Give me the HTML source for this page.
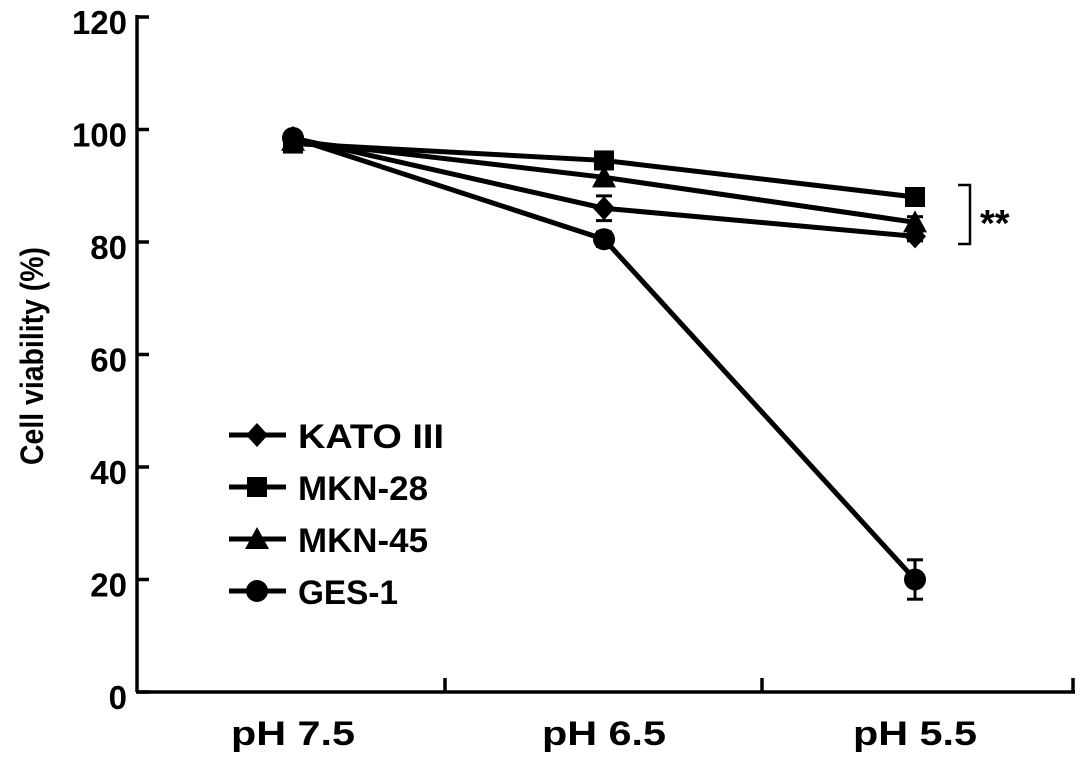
<!DOCTYPE html>
<html><head><style>
body{margin:0;background:#fff;}
text{font-family:"Liberation Sans",Arial,sans-serif;font-weight:bold;fill:#000;}
</style></head><body>
<svg id="chart" width="1087" height="765" viewBox="0 0 1087 765" xmlns="http://www.w3.org/2000/svg"></svg>
<script>
const categories=["pH 7.5","pH 6.5","pH 5.5"];
const yTicks=[0,20,40,60,80,100,120];
const seriesNames=["KATO III","MKN-28","MKN-45","GES-1"];
const kato=[98.5,86,81];
const mkn28=[97.5,94.5,88];
const mkn45=[98,91.5,83.5];
const ges1=[98.5,80.5,20];
const katoErr=[0.5,2.2,0.8];
const mkn28Err=[0.5,1,0.8];
const mkn45Err=[0.5,1.5,1];
const ges1Err=[0.5,1.3,3.5];
const svg=document.getElementById('chart');
const NS='http://www.w3.org/2000/svg';
const X0=137,Y0=692,YT=17;
const y=v=>Y0-(v/120)*(Y0-YT);
const xc=i=>293+i*311;
function mk(tag,attrs,parent){const e=document.createElementNS(NS,tag);for(const k in attrs)e.setAttribute(k,attrs[k]);(parent||svg).appendChild(e);return e;}
const axes=mk('g',{});


mk('line',{x1:X0,y1:YT-2,x2:X0,y2:Y0,stroke:'#000','stroke-width':3.5},axes);
mk('line',{x1:X0-1,y1:Y0,x2:1075,y2:Y0,stroke:'#000','stroke-width':3.5},axes);
[445,762,1073].forEach(tx=>mk('line',{x1:tx,y1:Y0,x2:tx,y2:Y0-14,stroke:'#000','stroke-width':3.5},axes));
yTicks.forEach(t=>{
 mk('line',{x1:X0,y1:y(t),x2:X0+12,y2:y(t),stroke:'#000','stroke-width':3.5},axes);
 const tl=mk('text',{x:X0-10,y:y(t)+17,'text-anchor':'end','font-size':33});
 tl.textContent=t;
 
 
});
categories.forEach((c,i)=>{
 const tl=mk('text',{x:xc(i)-62,y:745,'font-size':34,textLength:124,lengthAdjust:'spacingAndGlyphs'});
 tl.textContent=c;
 
 
});
const yt=mk('text',{x:-109,y:0,'font-size':32,textLength:218,lengthAdjust:'spacingAndGlyphs',transform:'translate(43,356) rotate(-90)'});
yt.textContent='Cell viability (%)';


function marker(type,cx,cy,g){
 const s=10;
 if(type==='diamond')return mk('polygon',{points:`${cx},${cy-12} ${cx+11},${cy} ${cx},${cy+12} ${cx-11},${cy}`},g);
 if(type==='square')return mk('rect',{x:cx-s,y:cy-s,width:2*s,height:2*s},g);
 if(type==='triangle')return mk('polygon',{points:`${cx},${cy-12} ${cx+12},${cy+10} ${cx-12},${cy+10}`},g);
 return mk('circle',{cx:cx,cy:cy,r:11},g);
}
const all=[[kato,katoErr,'diamond'],[mkn28,mkn28Err,'square'],[mkn45,mkn45Err,'triangle'],[ges1,ges1Err,'circle']];
all.forEach(([vals,errs,type],si)=>{
 const g=mk('g',{});
 
 
 mk('polyline',{points:vals.map((v,i)=>xc(i)+','+y(v)).join(' '),fill:'none',stroke:'#000','stroke-width':5},g);
 vals.forEach((v,i)=>{
  const e=errs[i];
  mk('line',{x1:xc(i),y1:y(v+e),x2:xc(i),y2:y(v-e),stroke:'#000','stroke-width':3},g);
  mk('line',{x1:xc(i)-8,y1:y(v+e),x2:xc(i)+8,y2:y(v+e),stroke:'#000','stroke-width':3},g);
  mk('line',{x1:xc(i)-8,y1:y(v-e),x2:xc(i)+8,y2:y(v-e),stroke:'#000','stroke-width':3},g);
  const m=marker(type,xc(i),y(v),g);
  
  
 });
});
const lg=mk('g',{});


const legendLens=[146,130,130,100];
['diamond','square','triangle','circle'].forEach((t,i)=>{
 const ly=435+i*52;
 const le=mk('g',{},lg);
 
 
 mk('line',{x1:229,y1:ly,x2:286,y2:ly,stroke:'#000','stroke-width':5},le);
 marker(t,257,ly,le);
 const tx=mk('text',{x:298,y:ly+13,'font-size':34,textLength:legendLens[i],lengthAdjust:'spacingAndGlyphs'},le);
 tx.textContent=seriesNames[i];
});
const sig=mk('g',{});


mk('polyline',{points:'958,185 970,185 970,244 958,244',fill:'none',stroke:'#000','stroke-width':2.5},sig);
const st=mk('text',{x:980,y:236,'font-size':38},sig);
st.textContent='**';
</script>
</body></html>
